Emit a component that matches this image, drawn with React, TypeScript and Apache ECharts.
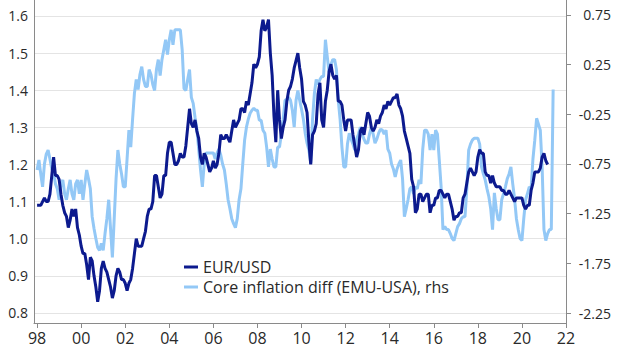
import React, { useEffect, useRef } from "react";
import * as echarts from "echarts";

// Monthly EUR/USD, Jan 1998 .. Mar 2021
const eurUsd: number[] = [
  1.09, 1.09, 1.09, 1.10, 1.11, 1.10, 1.10, 1.12, 1.17, 1.22, 1.17, 1.17,
  1.16, 1.12, 1.09, 1.07, 1.06, 1.03, 1.05, 1.08, 1.06, 1.08, 1.03, 1.01,
  0.98, 0.96, 0.96, 0.93, 0.89, 0.95, 0.94, 0.90, 0.87, 0.83, 0.86, 0.92,
  0.94, 0.92, 0.91, 0.89, 0.87, 0.84, 0.86, 0.90, 0.92, 0.91, 0.89, 0.89,
  0.88, 0.86, 0.88, 0.89, 0.92, 0.96, 1.00, 0.98, 0.98, 0.98, 1.00, 1.02,
  1.06, 1.08, 1.08, 1.10, 1.17, 1.17, 1.14, 1.11, 1.12, 1.17, 1.17, 1.23,
  1.26, 1.26, 1.23, 1.20, 1.20, 1.21, 1.23, 1.22, 1.22, 1.25, 1.30, 1.35,
  1.31, 1.30, 1.32, 1.29, 1.27, 1.22, 1.20, 1.23, 1.22, 1.20, 1.18, 1.19,
  1.21, 1.19, 1.20, 1.23, 1.28, 1.27, 1.27, 1.28, 1.27, 1.26, 1.29, 1.32,
  1.30, 1.31, 1.32, 1.35, 1.35, 1.34, 1.37, 1.36, 1.39, 1.42, 1.47, 1.46,
  1.47, 1.49, 1.56, 1.59, 1.56, 1.57, 1.59, 1.50, 1.44, 1.33, 1.26, 1.40,
  1.32, 1.27, 1.30, 1.32, 1.37, 1.40, 1.41, 1.43, 1.46, 1.48, 1.50, 1.46,
  1.43, 1.37, 1.36, 1.34, 1.26, 1.20, 1.28, 1.29, 1.31, 1.39, 1.42, 1.32,
  1.30, 1.37, 1.40, 1.45, 1.47, 1.44, 1.43, 1.44, 1.37, 1.37, 1.36, 1.32,
  1.29, 1.32, 1.32, 1.32, 1.28, 1.25, 1.22, 1.24, 1.29, 1.30, 1.28, 1.31,
  1.34, 1.33, 1.30, 1.29, 1.30, 1.32, 1.31, 1.33, 1.34, 1.36, 1.35, 1.37,
  1.36, 1.37, 1.38, 1.38, 1.39, 1.36, 1.35, 1.33, 1.29, 1.27, 1.25, 1.23,
  1.16, 1.14, 1.07, 1.08, 1.12, 1.12, 1.10, 1.11, 1.12, 1.12, 1.07, 1.09,
  1.09, 1.11, 1.11, 1.13, 1.13, 1.12, 1.11, 1.12, 1.12, 1.10, 1.08, 1.05,
  1.06, 1.06, 1.07, 1.07, 1.11, 1.12, 1.15, 1.18, 1.19, 1.18, 1.17, 1.18,
  1.22, 1.24, 1.23, 1.23, 1.18, 1.17, 1.17, 1.15, 1.17, 1.15, 1.14, 1.14,
  1.14, 1.13, 1.13, 1.12, 1.12, 1.13, 1.12, 1.11, 1.10, 1.11, 1.11, 1.11,
  1.11, 1.09, 1.08, 1.09, 1.09, 1.13, 1.15, 1.18, 1.18, 1.18, 1.19, 1.22,
  1.23, 1.21, 1.20,
];

// Monthly core inflation differential (EMU-USA), Jan 1998 .. Jun 2021, rhs
const coreDiff: number[] = [
  -0.81, -0.71, -0.85, -0.98, -0.75, -0.65, -0.61, -0.70, -0.80, -0.84, -0.95, -1.00,
  -1.11, -0.95, -0.91, -1.05, -1.11, -1.00, -0.91, -1.05, -1.11, -0.95, -0.91, -1.05,
  -0.91, -1.11, -0.95, -0.81, -0.90, -1.00, -1.28, -1.40, -1.50, -1.59, -1.62, -1.55,
  -1.62, -1.45, -1.30, -1.11, -1.40, -1.69, -1.30, -0.90, -0.61, -0.75, -0.85, -0.98,
  -0.98, -0.70, -0.41, -0.58, -0.30, -0.04, 0.10, 0.00, 0.15, 0.23, 0.10, 0.03,
  0.03, 0.20, 0.15, 0.05, -0.01, 0.20, 0.30, 0.14, 0.30, 0.40, 0.50, 0.35,
  0.50, 0.60, 0.45, 0.60, 0.60, 0.60, 0.60, 0.40, 0.01, -0.01, 0.10, 0.20,
  -0.08, -0.14, -0.28, -0.40, -0.60, -0.81, -0.98, -0.75, -0.64, -0.64, -0.64, -0.64,
  -0.64, -0.70, -0.64, -0.60, -0.66, -0.75, -0.81, -0.95, -1.11, -1.20, -1.30, -1.35,
  -1.39, -1.30, -1.11, -1.00, -0.75, -0.51, -0.38, -0.30, -0.24, -0.21, -0.19, -0.21,
  -0.21, -0.31, -0.31, -0.41, -0.44, -0.58, -0.78, -0.60, -0.70, -0.78, -0.78, -0.58,
  -0.58, -0.45, -0.30, -0.11, -0.10, -0.08, -0.11, -0.21, -0.38, -0.11, -0.01, -0.11,
  -0.20, -0.30, -0.44, -0.54, -0.61, -0.74, -0.30, -0.04, 0.10, 0.05, 0.10, 0.13,
  0.13, 0.50, 0.33, 0.17, 0.25, 0.30, 0.30, 0.20, -0.11, -0.30, -0.58, -0.78,
  -0.78, -0.55, -0.44, -0.50, -0.55, -0.61, -0.50, -0.45, -0.38, -0.45, -0.50, -0.54,
  -0.54, -0.45, -0.38, -0.45, -0.54, -0.50, -0.44, -0.40, -0.41, -0.45, -0.41, -0.60,
  -0.64, -0.75, -0.80, -0.88, -0.80, -0.75, -0.71, -0.90, -1.28, -1.20, -1.11, -1.00,
  -0.98, -1.05, -0.98, -1.00, -0.91, -0.95, -0.60, -0.41, -0.41, -0.45, -0.61, -0.45,
  -0.61, -0.41, -0.45, -0.71, -0.98, -1.41, -1.38, -1.41, -1.41, -1.45, -1.50, -1.52,
  -1.45, -1.38, -1.35, -1.30, -1.28, -1.28, -1.00, -0.61, -0.55, -0.51, -0.49, -0.49,
  -0.49, -0.55, -0.78, -0.85, -0.91, -1.00, -1.08, -1.20, -1.41, -1.04, -1.20, -1.31,
  -1.31, -1.11, -1.05, -0.98, -0.90, -0.85, -0.78, -0.95, -1.10, -1.30, -1.41, -1.50,
  -1.52, -1.30, -1.11, -1.05, -0.98, -1.00, -0.70, -0.51, -0.29, -0.35, -0.41, -0.78,
  -1.41, -1.52, -1.45, -1.41, -1.41, 0.00,
];

const startYear = 1998;
const xTickYears = [1998, 2000, 2002, 2004, 2006, 2008, 2010, 2012, 2014, 2016, 2018, 2020, 2022];
const xTickLabels = ["98", "00", "02", "04", "06", "08", "10", "12", "14", "16", "18", "20", "22"];
const leftTicks = [0.8, 0.9, 1.0, 1.1, 1.2, 1.3, 1.4, 1.5, 1.6];
const rightTicks = [-2.25, -1.75, -1.25, -0.75, -0.25, 0.25, 0.75];
const seriesNames = ["EUR/USD", "Core inflation diff (EMU-USA), rhs"];

const toPairs = (vals: number[]) => vals.map((v, i) => [startYear + i / 12, v]);

export default function App() {
  const ref = useRef<HTMLDivElement>(null);
  useEffect(() => {
    if (!ref.current) return;
    document.body.style.margin = "0";
    const chart = echarts.init(ref.current, null, { renderer: "svg" });
    const font = "'Open Sans', sans-serif";
    const textColor = "#2a2a2a";
    const axisColor = "#8a8a8a";
    chart.setOption({
      animation: false,
      grid: { left: 34, right: 54, top: 0, bottom: 28 },
      legend: {
        orient: "vertical",
        left: 184,
        top: 259,
        padding: 0,
        data: seriesNames,
        icon: "rect",
        itemWidth: 14,
        itemHeight: 3,
        itemGap: 4,
        textStyle: { fontFamily: font, fontSize: 16, color: textColor },
      },
      xAxis: {
        type: "value",
        min: 1997.86,
        max: 2022,
        axisLine: { show: true, onZero: false, lineStyle: { color: axisColor, width: 1 } },
        axisTick: { show: true, length: 5, lineStyle: { color: axisColor }, customValues: xTickYears },
        splitLine: { show: false },
        axisLabel: {
          customValues: xTickYears,
          margin: 7,
          fontFamily: font,
          fontSize: 16,
          color: textColor,
          formatter: (v: number) => {
            const i = xTickYears.indexOf(Math.round(v));
            return i >= 0 ? xTickLabels[i] : "";
          },
        },
      },
      yAxis: [
        {
          type: "value",
          position: "left",
          min: 0.773,
          max: 1.643,
          axisLine: { show: true, lineStyle: { color: axisColor, width: 1 } },
          axisTick: { show: false, customValues: leftTicks },
          splitLine: { show: true, lineStyle: { color: "#e4e4e4", width: 1 } },
          axisLabel: {
            customValues: leftTicks,
            margin: 6,
            fontFamily: font,
            fontSize: 14,
            color: textColor,
            formatter: (v: number) => v.toFixed(1),
          },
        },
        {
          type: "value",
          position: "right",
          min: -2.35,
          max: 0.9,
          axisLine: { show: true, lineStyle: { color: axisColor, width: 1 } },
          axisTick: { show: true, length: 5, lineStyle: { color: axisColor }, customValues: rightTicks },
          splitLine: { show: false },
          axisLabel: {
            customValues: rightTicks,
            margin: 45,
            align: "right",
            fontFamily: font,
            fontSize: 14,
            color: textColor,
            formatter: (v: number) => v.toFixed(2),
          },
        },
      ],
      series: [
        {
          name: seriesNames[1],
          type: "line",
          yAxisIndex: 1,
          data: toPairs(coreDiff),
          showSymbol: false,
          lineStyle: { color: "#93c8f6", width: 3 },
          itemStyle: { color: "#93c8f6" },
          z: 2,
        },
        {
          name: seriesNames[0],
          type: "line",
          yAxisIndex: 0,
          data: toPairs(eurUsd),
          showSymbol: false,
          lineStyle: { color: "#0c1a8e", width: 3 },
          itemStyle: { color: "#0c1a8e" },
          z: 3,
        },
      ],
    });
    return () => chart.dispose();
  }, []);
  return <div ref={ref} style={{ width: 620, height: 351 }} />;
}
